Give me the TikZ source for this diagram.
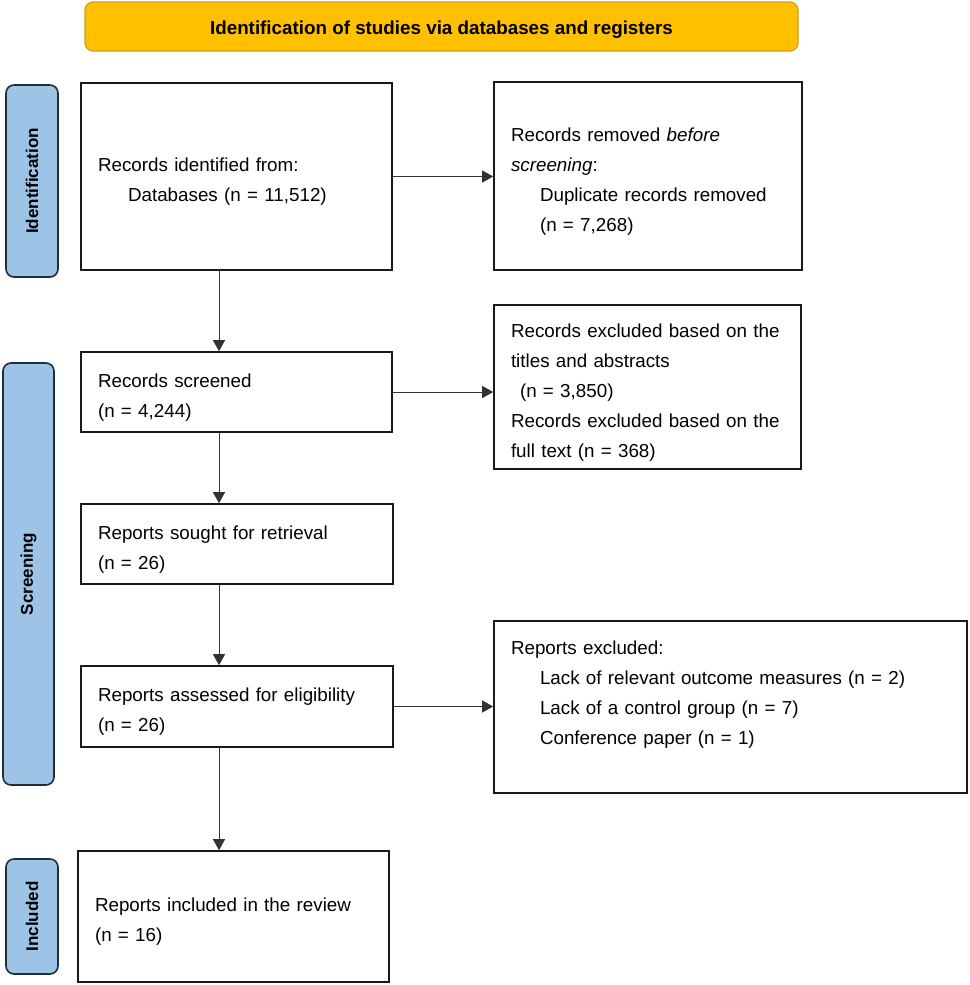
\documentclass[tikz,border=0pt]{standalone}
\usepackage{fontspec}
\setmainfont{Liberation Sans}
\usetikzlibrary{arrows.meta}
\definecolor{hdrfill}{RGB}{255,192,0}
\definecolor{hdrline}{RGB}{210,160,20}
\definecolor{sidefill}{RGB}{157,195,230}
\definecolor{sideline}{RGB}{35,45,55}
\definecolor{boxline}{RGB}{25,25,25}
\definecolor{arrline}{RGB}{50,50,50}
\begin{document}
\begin{tikzpicture}[x=1pt,y=-1pt,
  box/.style={draw=boxline, line width=1.6pt, fill=white, rectangle, inner xsep=17pt,
    align=left, font=\fontsize{18.8}{30}\selectfont, text=black,
    execute at begin node={\rule{0pt}{24pt}}},
  side/.style={draw=sideline, fill=sidefill, line width=1.6pt, rounded corners=8pt,
    rotate=90, font=\fontsize{17}{20}\selectfont\bfseries, text=black},
  hdr/.style={draw=hdrline, fill=hdrfill, line width=1.2pt, rounded corners=8pt,
    font=\fontsize{18.8}{22}\selectfont\bfseries, text=black},
  arr/.style={draw=arrline, line width=1pt, -{Triangle[length=11pt,width=12pt]}}]
\useasboundingbox (0,0) rectangle (969,985);

\node[hdr, minimum width=713pt, minimum height=49pt] (h) at (441.5,26.5)
  {\rule{0pt}{20pt}Identification of studies via databases and registers};

\node[side, minimum width=192pt, minimum height=52pt] (s1) at (32,181) {Identification};
\node[side, minimum width=422pt, minimum height=51pt] (s2) at (28.5,574) {Screening};
\node[side, minimum width=115pt, minimum height=52pt] (s3) at (32,916.5) {Included};

\node[box, text width=277pt, minimum height=187pt] (b1) at (236.5,176.5)
  {Records identified from:\\\hspace*{30pt}Databases (n = 11,512)};
\node[box, text width=274pt, minimum height=188pt] (b2) at (648,176)
  {Records removed \textit{before}\\\textit{screening}:\\\hspace*{29pt}Duplicate records removed\\\hspace*{29pt}(n = 7,268)};
\node[box, text width=277pt, minimum height=80pt] (b3) at (236.5,392)
  {Records screened\\(n = 4,244)};
\node[box, text width=273pt, minimum height=164pt] (b4) at (647.5,387)
  {Records excluded based on the\\titles and abstracts\\\hspace*{9pt}(n = 3,850)\\Records excluded based on the\\full text (n = 368)};
\node[box, text width=278pt, minimum height=80pt] (b5) at (237,544)
  {Reports sought for retrieval\\(n = 26)};
\node[box, text width=278pt, minimum height=81pt] (b6) at (237,706.5)
  {Reports assessed for eligibility\\(n = 26)};
\node[box, text width=439pt, minimum height=172pt] (b7) at (730.5,707)
  {Reports excluded:\\\hspace*{29pt}Lack of relevant outcome measures (n = 2)\\\hspace*{29pt}Lack of a control group (n = 7)\\\hspace*{29pt}Conference paper (n = 1)\\[10pt]\mbox{}};
\node[box, text width=277pt, minimum height=131pt] (b8) at (233.5,916.5)
  {Reports included in the review\\(n = 16)};

\coordinate (vx) at (219,0);
\draw[arr] (b1.south -| vx) -- (b3.north -| vx);
\draw[arr] (b3.south -| vx) -- (b5.north -| vx);
\draw[arr] (b5.south -| vx) -- (b6.north -| vx);
\draw[arr] (b6.south -| vx) -- (b8.north -| vx);
\draw[arr] (b1.east) -- (b1.east -| b2.west);
\draw[arr] (b3.east) -- (b3.east -| b4.west);
\draw[arr] (b6.east) -- (b6.east -| b7.west);
\end{tikzpicture}
\end{document}
